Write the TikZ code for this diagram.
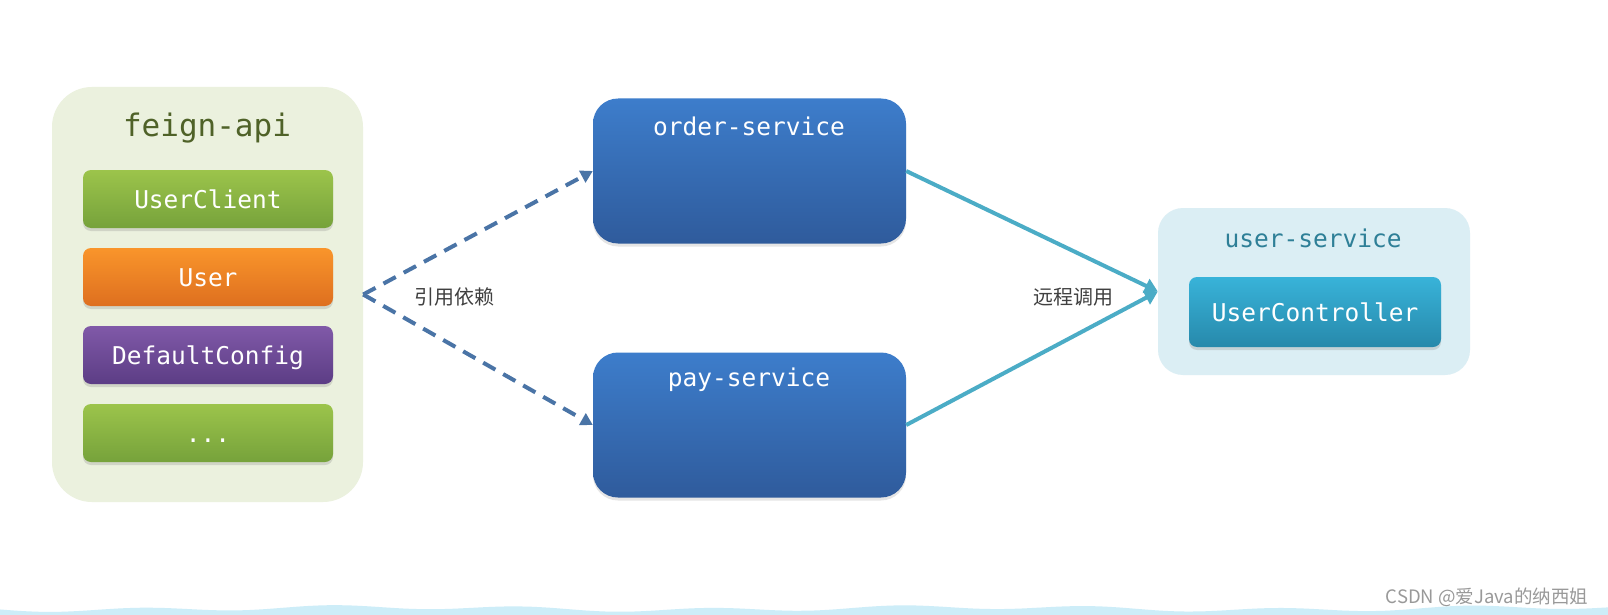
\documentclass[tikz,border=0pt]{standalone}
\usepackage{fontspec}
\setmonofont{DejaVu Sans Mono}
\newfontfamily\cjk{Noto Sans CJK SC}
\usepackage{tikz}
\usetikzlibrary{arrows.meta, positioning, shadows}

\definecolor{feignbg}{HTML}{EBF1DE}
\definecolor{feigntext}{HTML}{4F6228}
\definecolor{greentop}{HTML}{9CC44B}
\definecolor{greenbot}{HTML}{76A23B}
\definecolor{orangetop}{HTML}{F9952B}
\definecolor{orangebot}{HTML}{DE6F1F}
\definecolor{purpletop}{HTML}{8059A8}
\definecolor{purplebot}{HTML}{5C3D85}
\definecolor{bluetop}{HTML}{3D7DCB}
\definecolor{bluebot}{HTML}{2F5B9C}
\definecolor{userbg}{HTML}{DBEEF4}
\definecolor{usertext}{HTML}{2E7F97}
\definecolor{ctrltop}{HTML}{38B3D9}
\definecolor{ctrlbot}{HTML}{2789AB}
\definecolor{depline}{HTML}{4A74A6}
\definecolor{callline}{HTML}{4BACC6}
\definecolor{wavecol}{HTML}{CDEDF8}

\begin{document}
\begin{tikzpicture}[x=1pt, y=-1pt,
                group/.style={rectangle, rounded corners=40pt, fill=feignbg, inner sep=0pt},
                title/.style={inner sep=0pt, font=\ttfamily\fontsize{24.5}{24.5}\selectfont},
                item/.style={rectangle, rounded corners=8pt, inner sep=0pt, minimum width=250pt, minimum height=58pt,
                             text height=18pt, text depth=0pt,
                             text=white, font=\ttfamily\fontsize{24.5}{24.5}\selectfont,
                             drop shadow={opacity=0.25, shadow xshift=0pt, shadow yshift=-3pt}},
                service/.style={rectangle, rounded corners=25pt, inner sep=0pt, minimum width=313pt, minimum height=145pt,
                             top color=bluetop, bottom color=bluebot,
                             drop shadow={opacity=0.2, shadow xshift=0pt, shadow yshift=-3pt}},
                textlabel/.style={inner sep=0pt, text=black!75, font=\cjk\fontsize{20}{20}\selectfont},
                depends/.style={draw=depline, line width=4pt, dash pattern=on 14pt off 9pt, -{Triangle[length=12pt, width=13pt]}},
                calls/.style={draw=callline, line width=4pt, -{Triangle[length=13pt, width=15pt]}}
            ]
                \useasboundingbox (0,0) rectangle (1608,615);
                \fill[white] (0,0) rectangle (1608,615);

                % Nodes: feign-api
                \node[group, minimum width=311pt, minimum height=415pt] (feign) at (207.5,294.5) {};
                \node[title, text=feigntext, font=\ttfamily\fontsize{31}{31}\selectfont] (feigntitle) at (207,128) {feign-api};
                \node[item, top color=greentop, bottom color=greenbot] (client) at (208,199) {UserClient};
                \node[item, top color=orangetop, bottom color=orangebot, below of = client, node distance=78pt] (user) {User};
                \node[item, top color=purpletop, bottom color=purplebot, below of = user, node distance=78pt] (config) {DefaultConfig};
                \node[item, top color=greentop, bottom color=greenbot, below of = config, node distance=78pt] (more) {...};

                % Nodes: services
                \node[service] (order) at (749.5,171) {};
                \node[title, text=white] (ordertitle) at (749,126) {order-service};
                \node[service] (pay) at (749.5,425) {};
                \node[title, text=white] (paytitle) at (749,380) {pay-service};

                % Nodes: user-service
                \node[group, fill=userbg, rounded corners=25pt, minimum width=312pt, minimum height=167pt] (userservice) at (1314,291.5) {};
                \node[title, text=usertext] (usertitle) at (1313,238) {user-service};
                \node[item, minimum width=252pt, minimum height=70pt, top color=ctrltop, bottom color=ctrlbot] (controller) at (1315,312) {UserController};

                % Paths: dependencies
                \draw[depends] (feign.east) -- (order.west);
                \draw[depends] (feign.east) -- (pay.west);
                \node[textlabel] (deplabel) at (454,297) {引用依赖};

                % Paths: remote calls
                \draw[calls] (order.east) -- (userservice.west);
                \draw[calls] (pay.east) -- (userservice.west);
                \node[textlabel] (calllabel) at (1073,297) {远程调用};

                % Bottom wave and watermark
                \fill[wavecol] (0,615) -- plot[smooth, domain=0:1608, samples=80]
                    (\x, {608.5+2*sin(\x*1.9)+1.5*sin(\x*0.61+40)}) -- (1608,615) -- cycle;
                \node[inner sep=0pt, text=black!40, font=\cjk\fontsize{18.5}{18.5}\selectfont] (mark) at (1487,597) {CSDN @爱Java的纳西姐};
            \end{tikzpicture}
\end{document}
